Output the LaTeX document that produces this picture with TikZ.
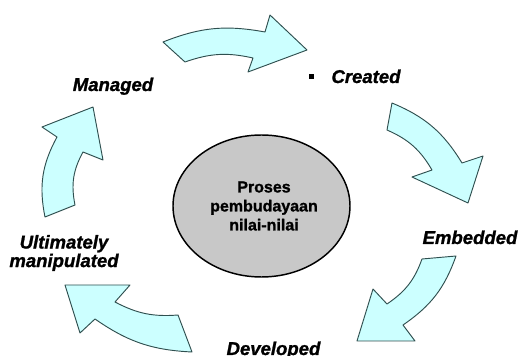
\documentclass[tikz,border=0pt]{standalone}
\usepackage{fontspec}
\setmainfont{Liberation Sans}[BoldFeatures={FakeBold=1.2},BoldItalicFeatures={FakeBold=1.2}]
\usetikzlibrary{shapes.geometric}
\definecolor{CycCyan}{HTML}{CCFFFF}
\definecolor{CycEdge}{HTML}{2F4F4F}
\definecolor{CycGray}{HTML}{C8C8C8}

\begin{document}
\begin{tikzpicture}[x=0.75pt,y=-0.75pt,line join=round,
  blockarrow/.style={fill=CycCyan,draw=CycEdge,line width=0.7pt},
  steplabel/.style={font=\fontsize{13.9}{13.9}\selectfont\bfseries\itshape,align=center,inner sep=0pt}]
  \useasboundingbox (0,0) rectangle (519,356);
  % centre
  \node[ellipse,draw,line width=1.1pt,fill=CycGray,minimum width=132.75pt,minimum height=106.5pt,
    inner sep=0pt] (core) at (261.5,206) {};
  \node[font=\fontsize{12}{14.25}\selectfont\bfseries,align=center,inner sep=0pt]
    (coretext) at (264,206) {Proses\\pembudayaan\\nilai-nilai};
  % curved block arrows, clockwise
  \filldraw[blockarrow] (163,42) to[bend left=16] (265,32) -- (270,15) -- (307,50)
    -- (248,72) -- (253,58) to[bend right=16] (185,62) -- cycle;
  \filldraw[blockarrow] (392,103) to[bend left=18] (462,163) -- (483,156) -- (468,203)
    -- (412,177) -- (432,170) to[bend right=18] (387,130) -- cycle;
  \filldraw[blockarrow] (456,256) to[bend left=18] (403,325) -- (415,341) -- (357,341)
    -- (373,289) -- (387,304) to[bend right=18] (422,259) -- cycle;
  \filldraw[blockarrow] (192,352) to[bend left=16] (95,319) -- (80,333) -- (65,285)
    -- (130,285) -- (115,302) to[bend right=16] (178,315) -- cycle;
  \filldraw[blockarrow] (45,217) to[bend left=20] (57,137) -- (42,127) -- (93,107)
    -- (103,160) -- (83,152) to[bend right=20] (75,205) -- cycle;
  % labels
  \node[steplabel,anchor=base] (managed) at (113,91) {Managed};
  \node[fill,minimum size=3.75pt,inner sep=0pt] (bullet) at (311,77) {};
  \node[steplabel,anchor=base] (created) at (366,83) {Created};
  \node[steplabel,anchor=base] (embedded) at (470,244) {Embedded};
  \node[steplabel] (manip) at (64,253) {Ultimately\\manipulated};
  \node[steplabel,anchor=base] (developed) at (273.5,355) {Developed};
\end{tikzpicture}
\end{document}
